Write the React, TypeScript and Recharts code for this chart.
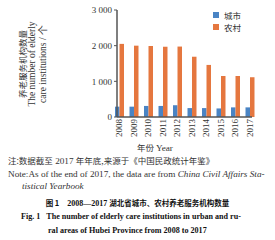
import { BarChart, Bar, XAxis, YAxis, Legend } from "recharts";

const years = ["2008", "2009", "2010", "2011", "2012", "2013", "2014", "2015", "2016", "2017"];
const urban = [290, 290, 310, 310, 330, 250, 250, 240, 270, 270];
const rural = [2050, 2000, 1990, 1970, 1975, 1690, 1460, 1150, 1150, 1115];
const yTicks = [0, 1000, 2000, 3000];
const seriesNames = ["城市", "农村"];
const seriesColors = ["#4a84c4", "#e5773f"];

const data = years.map((y, i) => ({ year: y, 城市: urban[i], 农村: rural[i] }));

const serif = "'Liberation Serif', 'Times New Roman', serif";
const cjk = "'Noto Sans CJK SC', sans-serif";

function YearTick({ x, y, payload }: any) {
  return (
    <text
      x={x}
      y={y + 2}
      transform={`rotate(-90 ${x} ${y + 2})`}
      textAnchor="end"
      dominantBaseline="central"
      fontSize={9}
      fontFamily={serif}
      fill="#333"
    >
      {payload.value}
    </text>
  );
}

function YLabel() {
  const cy = 64;
  const line = (x: number, txt: string, font: string, size: number) => (
    <text
      x={x}
      y={cy}
      transform={`rotate(-90 ${x} ${cy})`}
      textAnchor="middle"
      dominantBaseline="central"
      fontSize={size}
      fontFamily={font}
      fill="#333"
    >
      {txt}
    </text>
  );
  return (
    <g>
      {line(22, "养老服务机构数量", cjk, 8.5)}
      {line(32, "The number of elderly", serif, 9.5)}
      {line(43, "care institutions / 个", serif, 9.5)}
    </g>
  );
}

function LegendBox() {
  return (
    <div style={{ fontFamily: cjk, fontSize: 8.5, color: "#333", lineHeight: "12px" }}>
      {seriesNames.map((n, i) => (
        <div key={n} style={{ display: "flex", alignItems: "center" }}>
          <span style={{ display: "inline-block", width: 6, height: 6, background: seriesColors[i], marginRight: 5 }} />
          {n}
        </div>
      ))}
    </div>
  );
}

const capStyle: React.CSSProperties = {
  position: "absolute",
  whiteSpace: "nowrap",
  fontSize: 9.2,
  color: "#333",
  lineHeight: "12px",
};

export default function App() {
  return (
    <div style={{ position: "absolute", left: 0, top: 0, width: 275, height: 240, background: "#fff", overflow: "hidden" }}>
      <BarChart width={275} height={140} data={data} margin={{ top: 10, right: 23, left: 0, bottom: 0 }} barGap={0}>
        <XAxis
          dataKey="year"
          height={23}
          tick={<YearTick />}
          tickLine={false}
          tickSize={0}
          tickMargin={0}
          axisLine={{ stroke: "#555", strokeWidth: 1.5 }}
          interval={0}
          padding={{ left: -5, right: -5 }}
        />
        <YAxis
          width={67}
          domain={[0, 3000]}
          ticks={yTicks}
          tickSize={3}
          tickLine={{ stroke: "#555" }}
          axisLine={{ stroke: "#555", strokeWidth: 1.5 }}
          tick={{ fontSize: 9, fontFamily: serif, fill: "#333" }}
          tickFormatter={(v: number) => (v >= 1000 ? `${Math.floor(v / 1000)} ${String(v % 1000).padStart(3, "0")}` : String(v))}
          label={{ content: <YLabel /> }}
        />
        <Legend
          layout="vertical"
          verticalAlign="top"
          align="left"
          content={<LegendBox />}
          wrapperStyle={{ left: 213, top: 9, width: 50 }}
        />
        <Bar dataKey="城市" fill={seriesColors[0]} barSize={4.5} isAnimationActive={false} />
        <Bar dataKey="农村" fill={seriesColors[1]} barSize={4.5} isAnimationActive={false} />
      </BarChart>
      <div style={{ ...capStyle, left: 0, width: 310, top: 141, textAlign: "center", fontFamily: cjk, fontSize: 8.5 }}>
        年份 <span style={{ fontFamily: serif, fontSize: 9.2 }}>Year</span>
      </div>
      <div style={{ ...capStyle, left: 8, top: 154, fontFamily: serif }}>
        <span style={{ fontFamily: cjk, fontSize: 8.5 }}>注:数据截至</span> 2017 <span style={{ fontFamily: cjk, fontSize: 8.5 }}>年年底,来源于《中国民政统计年鉴》</span>
      </div>
      <div style={{ ...capStyle, left: 8, top: 168, fontFamily: serif }}>
        Note:As of the end of 2017, the data are from <i>China Civil Affairs Sta-</i>
      </div>
      <div style={{ ...capStyle, left: 22, top: 180, fontFamily: serif }}>
        <i>tistical Yearbook</i>
      </div>
      <div style={{ ...capStyle, left: 0, width: 275, top: 197, textAlign: "center", fontFamily: serif, fontWeight: "bold", fontSize: 8, color: "#111" }}>
        <span style={{ fontFamily: cjk, fontSize: 7.5 }}>图 1</span>{"\u2003"}2008—2017 <span style={{ fontFamily: cjk, fontSize: 7.5 }}>湖北省城市、农村养老服务机构数量</span>
      </div>
      <div style={{ ...capStyle, left: 21, top: 211, fontFamily: serif, fontWeight: "bold", fontSize: 8.1, color: "#111" }}>
        Fig. 1{"\u2002"} The number of elderly care institutions in urban and ru-
      </div>
      <div style={{ ...capStyle, left: 48, top: 225, fontFamily: serif, fontWeight: "bold", fontSize: 8.1, color: "#111" }}>
        ral areas of Hubei Province from 2008 to 2017
      </div>
    </div>
  );
}
